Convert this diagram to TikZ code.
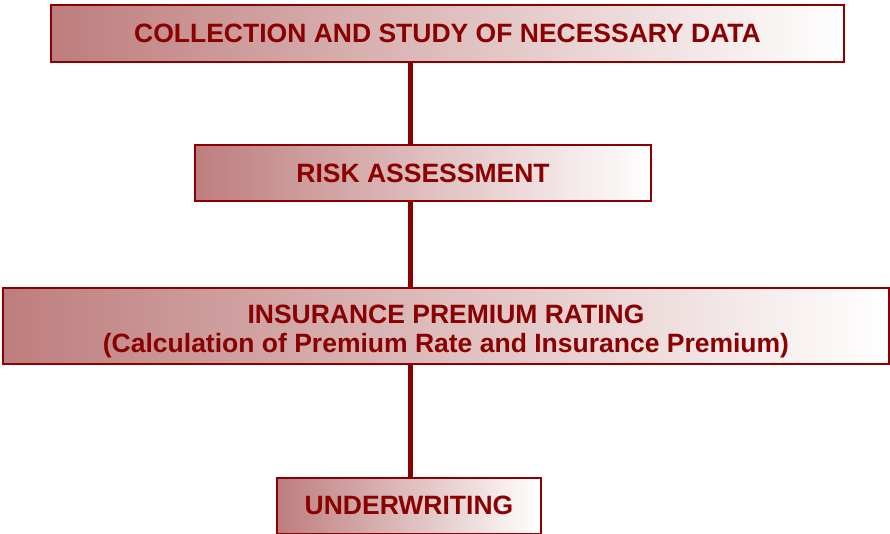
\documentclass[tikz,border=0pt]{standalone}
\usepackage{fontspec}
\setmainfont{Liberation Sans}
\definecolor{dred}{RGB}{139,0,0}
\definecolor{rose}{RGB}{190,125,125}
\begin{document}
\begin{tikzpicture}[x=1pt,y=-1pt,
  stepbox/.style={draw=dred, line width=2pt, rectangle, inner sep=0pt,
    left color=rose, right color=white, shading angle=90,
    text=dred, font=\fontsize{26.5}{30}\bfseries\selectfont, align=center},
  lbl/.style={text=dred, font=\fontsize{26.5}{30}\bfseries\selectfont, inner sep=0pt, anchor=base},
  conn/.style={draw=dred, line width=5pt}]
\useasboundingbox (0,0) rectangle (890,534);
\node[stepbox, minimum width=793pt, minimum height=57pt] (b1) at (447.5,33.5) {COLLECTION AND STUDY OF NECESSARY DATA};
\node[stepbox, minimum width=456pt, minimum height=56pt] (b2) at (423,173.5) {RISK ASSESSMENT};
\node[stepbox, minimum width=886pt, minimum height=76pt] (b3) at (446,325.5) {};
\node[lbl] (t3a) at (446,323) {INSURANCE PREMIUM RATING};
\node[lbl] (t3b) at (446,352) {(Calculation of Premium Rate and Insurance Premium)};
\node[stepbox, minimum width=264pt, minimum height=56pt] (b4) at (409,505.5) {UNDERWRITING};
\coordinate (cx) at (410.5,0);
\draw[conn] (b1.south -| cx) -- (b2.north -| cx);
\draw[conn] (b2.south -| cx) -- (b3.north -| cx);
\draw[conn] (b3.south -| cx) -- (b4.north -| cx);
\end{tikzpicture}
\end{document}
